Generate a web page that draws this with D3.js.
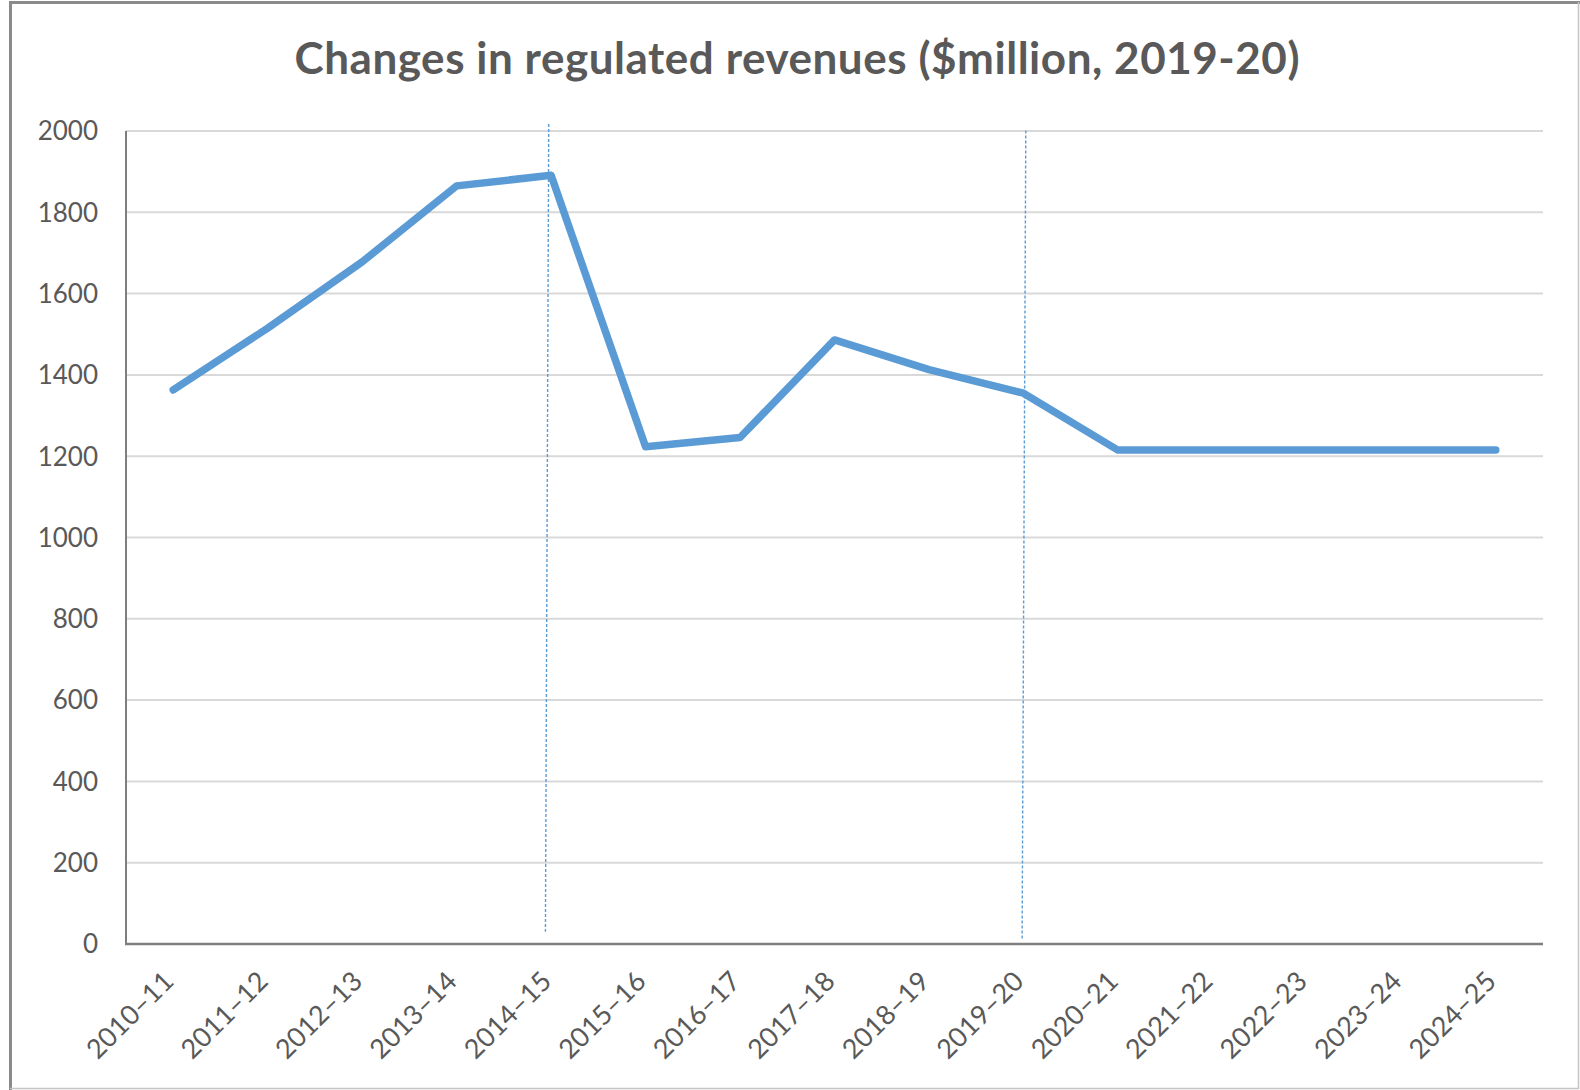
<!DOCTYPE html>
<html>
<head>
<meta charset="utf-8">
<script src="https://cdn.jsdelivr.net/npm/d3@7"></script>
<style>
  body { margin: 0; background: #fff; }
  text { font-family: Lato, "Open Sans", sans-serif; }
</style>
</head>
<body>
<div id="my_dataviz"></div>
<script>

// financial years on the category axis
var years = ["2010–11", "2011–12", "2012–13", "2013–14", "2014–15", "2015–16", "2016–17", "2017–18",
  "2018–19", "2019–20", "2020–21", "2021–22", "2022–23", "2023–24", "2024–25"];

// regulated revenues, $million (2019-20)
var revenues = [1363, 1515, 1678, 1865, 1891, 1223, 1246, 1486, 1413, 1355, 1215, 1215, 1215, 1215, 1215];

var yTicks = [0, 200, 400, 600, 800, 1000, 1200, 1400, 1600, 1800, 2000];

// dotted markers drawn at two of the years (top / bottom in $million)
var markerYears = ["2014–15", "2019–20"];
var markerTop = [2017, 2001];
var markerBottom = [30, 12];

var chartTitle = "Changes in regulated revenues ($million, 2019-20)";

function drawChart() {

  var W = 1580, H = 1090;
  var margin = {top: 131, right: 37, bottom: 146, left: 126};

  var svg = d3.select("#my_dataviz")
    .append("svg")
    .attr("width", W)
    .attr("height", H);

  // outer chart frame
  svg.append("path")
    .attr("d", "M10.5,1090 V2.5 H1580")
    .attr("fill", "none")
    .attr("stroke", "#8a8a8a")
    .attr("stroke-width", 3);
  svg.append("path")
    .attr("d", "M10,1088.5 H1578.5 V2")
    .attr("fill", "none")
    .attr("stroke", "#c4c4c4")
    .attr("stroke-width", 1.5);

  svg.append("text")
    .attr("x", 797)
    .attr("y", 74)
    .attr("text-anchor", "middle")
    .attr("font-size", "44px")
    .attr("font-weight", 700)
    .attr("fill", "#595959")
    .attr("textLength", 1005)
    .attr("lengthAdjust", "spacing")
    .text(chartTitle);

  var x = d3.scalePoint()
    .domain(years)
    .range([margin.left, W - margin.right])
    .padding(0.5);

  var y = d3.scaleLinear()
    .domain([0, 2000])
    .range([H - margin.bottom, margin.top]);

  // gridlines
  svg.append("g")
    .selectAll("line")
    .data(yTicks.filter(d => d > 0))
    .enter().append("line")
      .attr("x1", margin.left)
      .attr("x2", W - margin.right)
      .attr("y1", d => y(d))
      .attr("y2", d => y(d))
      .attr("stroke", "#d9d9d9")
      .attr("stroke-width", 2);

  // y labels
  svg.append("g")
    .selectAll("text")
    .data(yTicks)
    .enter().append("text")
      .attr("x", margin.left - 28)
      .attr("y", d => y(d))
      .attr("dy", "0.36em")
      .attr("text-anchor", "end")
      .attr("font-size", "26px")
      .attr("fill", "#595959")
      .text(d => d);

  // x labels, rotated
  svg.append("g")
    .selectAll("text")
    .data(years)
    .enter().append("text")
      .attr("transform", d => "translate(" + (x(d) + 2) + "," + (y(0) + 39) + ") rotate(-45)")
      .attr("text-anchor", "end")
      .attr("font-size", "27px")
      .attr("fill", "#595959")
      .text(d => d);

  // the two dotted markers
  var step = x.step();
  var nudge = [[-0.025, -0.06], [0.025, -0.014]];
  svg.append("g")
    .selectAll("line")
    .data(markerYears)
    .enter().append("line")
      .attr("x1", (d, i) => x(d) + nudge[i][0] * step)
      .attr("x2", (d, i) => x(d) + nudge[i][1] * step)
      .attr("y1", (d, i) => y(markerTop[i]))
      .attr("y2", (d, i) => y(markerBottom[i]))
      .attr("stroke", "#5b9bd5")
      .attr("stroke-width", 1.4)
      .attr("stroke-dasharray", "3,2");

  // axes lines
  svg.append("line")
    .attr("x1", margin.left).attr("x2", margin.left)
    .attr("y1", y(2000)).attr("y2", y(0))
    .attr("stroke", "#7f7f7f")
    .attr("stroke-width", 2);
  svg.append("line")
    .attr("x1", margin.left - 1).attr("x2", W - margin.right)
    .attr("y1", y(0)).attr("y2", y(0))
    .attr("stroke", "#7f7f7f")
    .attr("stroke-width", 2.5);

  var line = d3.line()
    .x((d, i) => x(years[i]))
    .y(d => y(d));

  svg.append("path")
    .datum(revenues)
    .attr("d", line)
    .attr("fill", "none")
    .attr("stroke", "#5b9bd5")
    .attr("stroke-width", 7.5)
    .attr("stroke-linejoin", "round")
    .attr("stroke-linecap", "round");
}

drawChart();
</script>
</body>
</html>
